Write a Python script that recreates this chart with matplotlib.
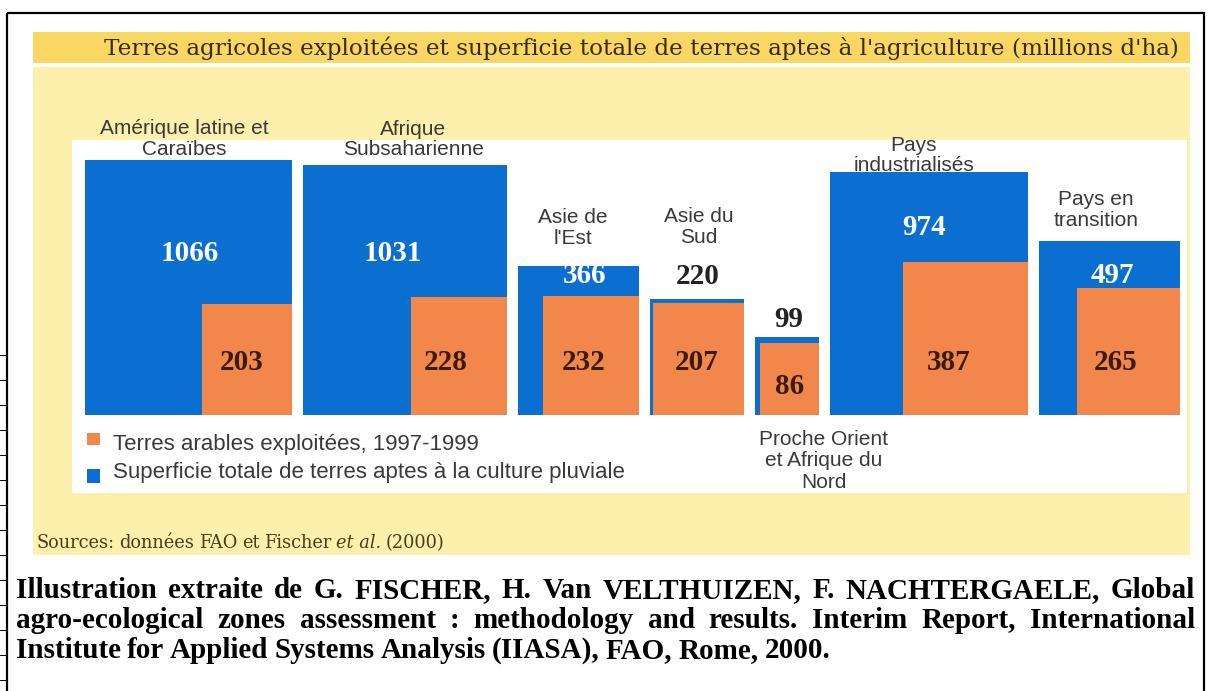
import numpy as np
import matplotlib
matplotlib.use("Agg")
import matplotlib.pyplot as plt
from matplotlib.patches import Rectangle

# ---------------- data ----------------
regions = ["Amérique latine et\nCaraïbes", "Afrique\nSubsaharienne", "Asie de\nl'Est",
           "Asie du\nSud", "Proche Orient\net Afrique du\nNord", "Pays\nindustrialisés",
           "Pays en\ntransition"]
total_suitable = [1066, 1031, 366, 220, 99, 974, 497]   # superficie totale apte (blue)
arable_used = [203, 228, 232, 207, 86, 387, 265]        # terres arables exploitées (orange)

title = "Terres agricoles exploitées et superficie totale de terres aptes à l'agriculture (millions d'ha)"
legend_labels = ["Terres arables exploitées, 1997-1999",
                 "Superficie totale de terres aptes à la culture pluviale"]
citation_lines = ["Illustration extraite de G. FISCHER, H. Van VELTHUIZEN, F. NACHTERGAELE, Global",
                  "agro-ecological zones assessment : methodology and results. Interim Report, International",
                  "Institute for Applied Systems Analysis (IIASA), FAO, Rome, 2000."]

# ---------------- style / layout ----------------
BLUE = "#0B6FD2"
ORANGE = "#F2874C"
BAND = "#F8D862"
PANEL = "#FCF0AC"
GREY_TXT = "#3a3a3a"
BROWN = "#3b2a0e"
DARK_NUM = "#3a1c0c"

W, H = 1208, 691
fig = plt.figure(figsize=(W / 100, H / 100), dpi=100)
bg = fig.add_axes([0, 0, 1, 1])
bg.set_xlim(0, W)
bg.set_ylim(H, 0)
bg.axis("off")

# outer frame (with small ruler marks on the left edge, as in the scanned page)
bg.add_patch(Rectangle((7, 13), 1197, 700, fill=False, ec="black", lw=1.6))
for yy in np.arange(355, H, 25):
    bg.plot([0, 6], [yy, yy], color="black", lw=0.7)
# title band, panel, white plot area
bg.add_patch(Rectangle((33, 32), 1157, 31, color=BAND, lw=0))
bg.add_patch(Rectangle((33, 67), 1157, 488, color=PANEL, lw=0))
bg.add_patch(Rectangle((72, 140), 1115, 353, color="white", lw=0))

bg.text(641, 48, title, ha="center", va="center", fontsize=16.7,
        family="DejaVu Serif", color=BROWN)

# ---------------- bars (area-proportional rectangles) ----------------
BASE_PX = 415          # baseline pixel row
TOP_PX = 135
K = 7.8                # pixels per sqrt unit (height)
F = 6.345              # pixels per sqrt unit (width)
GAP = 11
X0 = 85

ax = fig.add_axes([0, (H - BASE_PX) / H, 1, (BASE_PX - TOP_PX) / H])
ax.set_xlim(0, W)
ax.set_yscale("function", functions=(lambda v: np.sqrt(np.clip(v, 0, None)), lambda v: np.square(v)))
ax.set_ylim(0, ((BASE_PX - TOP_PX) / K) ** 2)
ax.axis("off")
ax.patch.set_alpha(0)

tot = np.array(total_suitable, float)
ara = np.array(arable_used, float)
wb = F * np.sqrt(tot)
wo = F * np.sqrt(ara)
lefts = X0 + np.concatenate([[0], np.cumsum(wb[:-1] + GAP)])
rights = lefts + wb
ax.bar(lefts, tot, width=wb, align="edge", color=BLUE, lw=0, zorder=2)
ax.bar(rights - wo, ara, width=wo, align="edge", color=ORANGE, lw=0, zorder=3)

# value labels (offsets in pixels)
blue_off = [(1, -93), (-12, -89), (6, -10), (0, 23), (2, 18), (-4, -56), (3, -34)]
orange_off = [(-5, 53), (-13, 53), (-7, 52), (-2, 52), (0, 29), (-16, 53), (-13, 53)]
for i, v in enumerate(total_suitable):
    dx, dy = blue_off[i]
    col = "white" if dy < 0 else "#222222"
    ax.annotate(f"{v}", xy=(lefts[i] + wb[i] / 2, v), xytext=(dx, dy),
                textcoords="offset pixels", ha="center", va="center",
                fontsize=21, fontweight="bold", family="Liberation Serif",
                color=col, zorder=5)
for i, v in enumerate(arable_used):
    dx, dy = orange_off[i]
    ax.annotate(f"{v}", xy=(rights[i] - wo[i] / 2, 0), xytext=(dx, dy),
                textcoords="offset pixels", ha="center", va="center",
                fontsize=21, fontweight="bold", family="Liberation Serif",
                color=DARK_NUM, zorder=5)

# region labels (block centre offsets relative to bar top centre, pixels)
cat_off = [(-4, 21), (8, 25), (-6, 38), (1, 72), (37, None), (-15, 16), (-13, 31)]
for i, lab in enumerate(regions):
    dx, dy = cat_off[i]
    if dy is None:
        ax.annotate(lab, xy=(lefts[i] + wb[i] / 2, 0), xytext=(dx, -46),
                    textcoords="offset pixels", ha="center", va="center",
                    fontsize=15, family="Liberation Sans", color=GREY_TXT,
                    linespacing=1.15, annotation_clip=False)
    else:
        ax.annotate(lab, xy=(lefts[i] + wb[i] / 2, total_suitable[i]), xytext=(dx, dy),
                    textcoords="offset pixels", ha="center", va="center",
                    fontsize=15, family="Liberation Sans", color=GREY_TXT,
                    linespacing=1.12, annotation_clip=False)

# ---------------- legend ----------------
bg.add_patch(Rectangle((87, 433), 13, 12, color=ORANGE, lw=0))
bg.add_patch(Rectangle((87, 469), 13, 14, color=BLUE, lw=0))
bg.text(113, 444, legend_labels[0], ha="left", va="center", fontsize=16,
        family="Liberation Sans", color=GREY_TXT)
bg.text(113, 472, legend_labels[1], ha="left", va="center", fontsize=16,
        family="Liberation Sans", color=GREY_TXT)

# ---------------- source + citation ----------------
renderer = fig.canvas.get_renderer()


def width_of(t):
    return t.get_window_extent(renderer).width


def draw_pieces(pieces, x, y, x_end=None, space=None, **kw):
    texts = []
    for s, extra in pieces:
        kk = dict(kw)
        kk.update(extra)
        texts.append(bg.text(x, y, s, ha="left", va="center", **kk))
    widths = [width_of(t) for t in texts]
    if x_end is not None and len(texts) > 1:
        gap = (x_end - x - sum(widths)) / (len(texts) - 1)
    else:
        gap = space
    cx = x
    for t, w in zip(texts, widths):
        t.set_x(cx)
        cx += w + gap


src_kw = dict(fontsize=12.8, family="DejaVu Serif", color="#4a3d1c")
draw_pieces([("Sources:", {}), ("données", {}), ("FAO", {}), ("et", {}), ("Fischer", {}),
             ("et al.", {"style": "italic"}), ("(2000)", {})], 37, 543, space=4.5, **src_kw)

cit_kw = dict(fontsize=21, family="Liberation Serif", fontweight="bold", color="black")
ys = [591, 621, 651]
for k, line in enumerate(citation_lines):
    words = [(w, {}) for w in line.split(" ")]
    if k < 2:
        draw_pieces(words, 16, ys[k], x_end=1195, **cit_kw)
    else:
        draw_pieces(words, 16, ys[k], space=6, **cit_kw)

fig.savefig("out.png", dpi=100)
